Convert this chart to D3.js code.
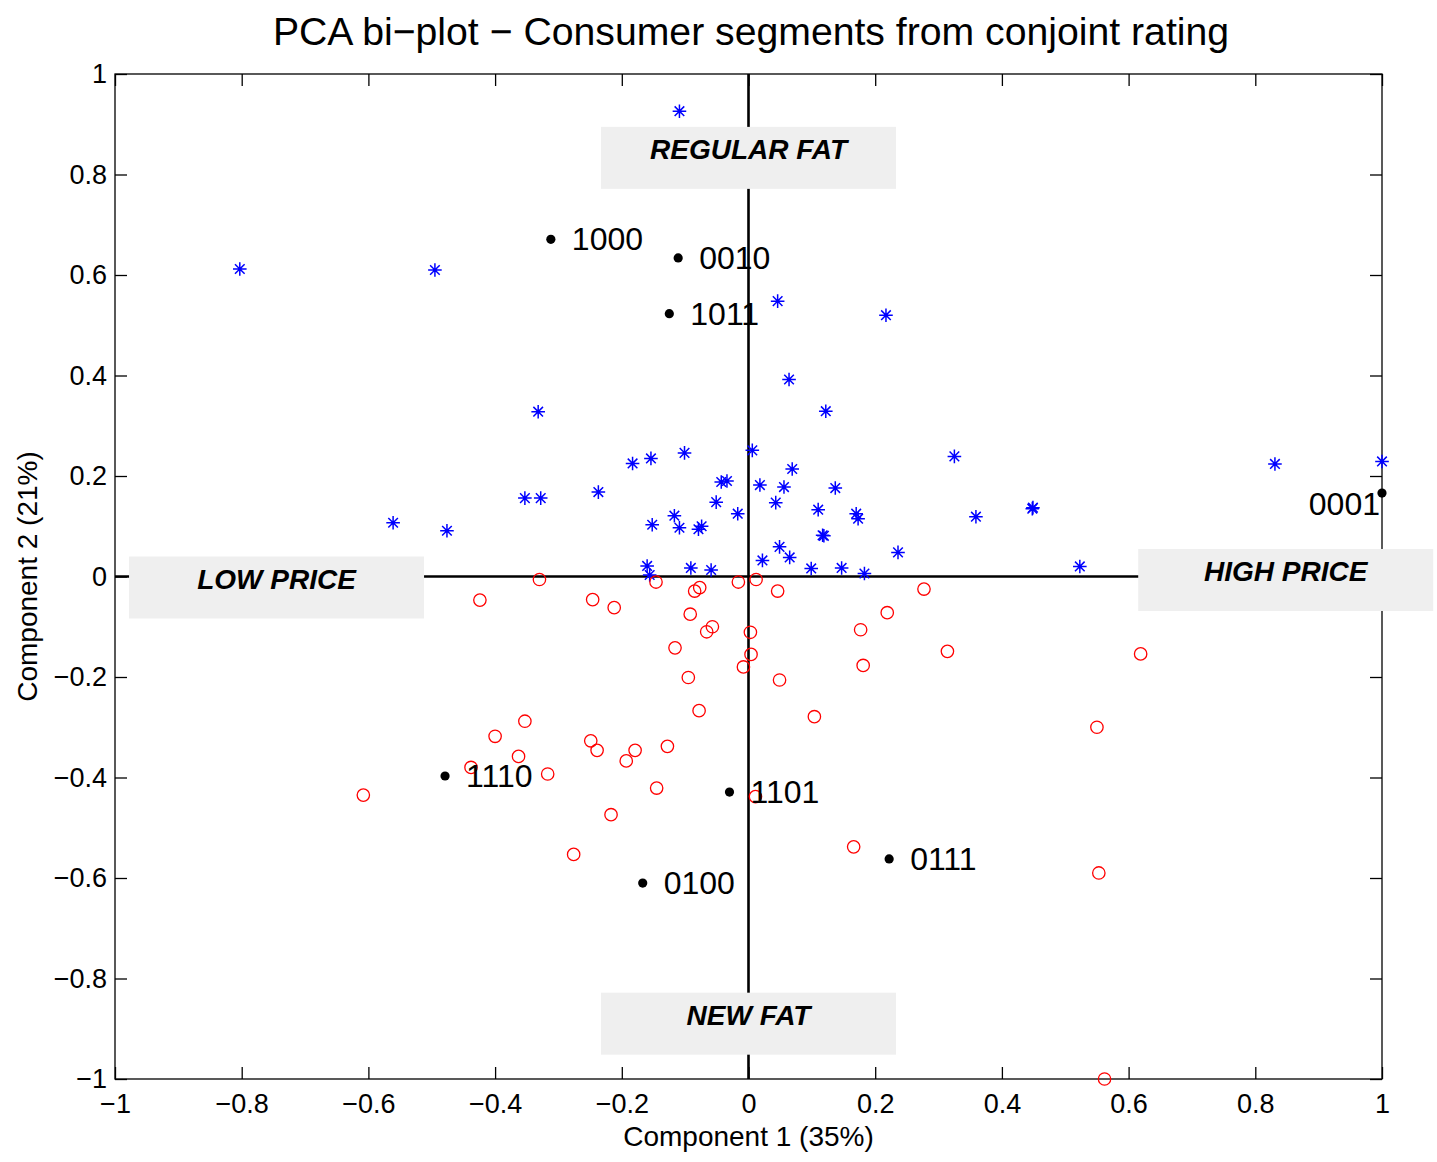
<!DOCTYPE html>
<html>
<head>
<meta charset="utf-8">
<title>PCA bi-plot</title>
<script src="https://d3js.org/d3.v7.min.js"></script>
<style>
  body { margin: 0; background: #fff; }
  text { font-family: "Liberation Sans", Arial, sans-serif; }
</style>
</head>
<body>
<svg id="chart" width="1437" height="1162"></svg>
<script>

// respondent scores, segment 1 (blue stars)
const seg1X = [-0.109, -0.803, -0.495, 0.046, 0.217, 0.064, -0.332, 0.122, 0.006, 0.831,
  1.0, 0.325, -0.183, -0.154, -0.101, 0.069, -0.043, -0.034, 0.018, 0.056,
  0.137, -0.237, -0.353, -0.328, -0.051, 0.043, 0.449, 0.448, 0.359, -0.561,
  -0.476, -0.017, 0.110, 0.170, 0.173, -0.152, -0.117, -0.109, -0.079, -0.074,
  0.117, 0.119, 0.236, 0.049, 0.022, 0.065, -0.160, -0.156, -0.091, -0.059,
  0.099, 0.147, 0.183, 0.523];
const seg1Y = [0.926, 0.612, 0.610, 0.548, 0.520, 0.392, 0.328, 0.329, 0.251, 0.224,
  0.229, 0.239, 0.225, 0.235, 0.246, 0.214, 0.188, 0.190, 0.182, 0.178,
  0.176, 0.168, 0.156, 0.156, 0.148, 0.147, 0.137, 0.135, 0.119, 0.107,
  0.091, 0.125, 0.133, 0.125, 0.115, 0.103, 0.121, 0.097, 0.094, 0.100,
  0.082, 0.081, 0.048, 0.059, 0.032, 0.038, 0.021, 0.003, 0.017, 0.013,
  0.016, 0.017, 0.006, 0.020];

// respondent scores, segment 2 (red circles)
const seg2X = [-0.330, -0.424, -0.146, -0.077, -0.085, -0.016, 0.012, 0.046, -0.246, -0.212,
  -0.092, 0.219, 0.277, 0.177, -0.057, -0.066, 0.003, -0.116, 0.004, -0.008,
  0.181, -0.095, 0.049, -0.078, 0.104, -0.353, -0.400, -0.249, -0.239, -0.179,
  -0.193, -0.128, -0.363, -0.317, -0.438, -0.608, -0.145, 0.011, -0.217, -0.276,
  0.166, 0.314, 0.619, 0.550, 0.553, 0.562];
const seg2Y = [-0.006, -0.047, -0.011, -0.022, -0.029, -0.011, -0.006, -0.029, -0.046, -0.062,
  -0.075, -0.072, -0.025, -0.106, -0.100, -0.110, -0.111, -0.142, -0.155, -0.180,
  -0.177, -0.201, -0.206, -0.267, -0.279, -0.288, -0.318, -0.327, -0.346, -0.346,
  -0.367, -0.338, -0.358, -0.393, -0.380, -0.435, -0.421, -0.438, -0.474, -0.553,
  -0.538, -0.149, -0.154, -0.300, -0.590, -1.000];

// product profile loadings
const profileNames = ["1000", "0010", "1011", "0001", "1110", "1101", "0100", "0111"];
const profileX = [-0.312, -0.111, -0.125, 1.0, -0.479, -0.030, -0.167, 0.222];
const profileY = [0.671, 0.634, 0.523, 0.166, -0.397, -0.429, -0.610, -0.562];

// attribute poles
const poleNames = ["REGULAR FAT", "NEW FAT", "LOW PRICE", "HIGH PRICE"];
const poleX = [0, 0, -0.745, 0.848];
const poleY = [0.85, -0.873, -0.005, 0.01];

const axisTicks = [-1, -0.8, -0.6, -0.4, -0.2, 0, 0.2, 0.4, 0.6, 0.8, 1];

const svg = d3.select("#chart");

const x = d3.scaleLinear().domain([-1, 1]).range([115, 1382]);
const y = d3.scaleLinear().domain([-1, 1]).range([1079, 74]);
const fmt = d3.format("~g");

const tickFont = g => g
    .attr("font-family", "'Liberation Sans', Arial, sans-serif")
    .attr("font-size", 27)
    .call(g => g.select(".domain").remove())
    .call(g => g.selectAll(".tick line").attr("stroke-width", 1.3));

svg.append("g")
    .attr("transform", `translate(0,${y(-1)})`)
    .call(d3.axisBottom(x).tickValues(axisTicks).tickFormat(fmt).tickSize(-12).tickPadding(15))
    .call(tickFont);

svg.append("g")
    .attr("transform", `translate(0,${y(1)})`)
    .call(d3.axisTop(x).tickValues(axisTicks).tickFormat("").tickSize(-12))
    .call(tickFont);

svg.append("g")
    .attr("transform", `translate(${x(-1)},0)`)
    .call(d3.axisLeft(y).tickValues(axisTicks).tickFormat(fmt).tickSize(-12).tickPadding(8))
    .call(tickFont);

svg.append("g")
    .attr("transform", `translate(${x(1)},0)`)
    .call(d3.axisRight(y).tickValues(axisTicks).tickFormat("").tickSize(-12))
    .call(tickFont);

// frame
svg.append("rect")
    .attr("x", x(-1))
    .attr("y", y(1))
    .attr("width", x(1) - x(-1))
    .attr("height", y(-1) - y(1))
    .attr("fill", "none")
    .attr("stroke", "#000")
    .attr("stroke-width", 1.3);

// zero lines
svg.append("line")
    .attr("x1", x(0)).attr("x2", x(0))
    .attr("y1", y(1)).attr("y2", y(-1))
    .attr("stroke", "#000").attr("stroke-width", 2.6);
svg.append("line")
    .attr("x1", x(-1)).attr("x2", x(1))
    .attr("y1", y(0)).attr("y2", y(0))
    .attr("stroke", "#000").attr("stroke-width", 2.6);

// pole boxes
const poles = poleNames.map((name, i) => ({name, x: poleX[i], y: poleY[i]}));
const boxW = 295, boxH = 62;

const poleG = svg.selectAll(".pole")
    .data(poles)
    .join("g")
      .attr("class", "pole")
      .attr("transform", d => `translate(${x(d.x)},${y(d.y)})`);

poleG.append("rect")
    .attr("x", -boxW / 2)
    .attr("y", -22.5)
    .attr("width", boxW)
    .attr("height", boxH)
    .attr("fill", "#efefef");

// scores
const seg1 = seg1X.map((v, i) => ({x: v, y: seg1Y[i]}));
const seg2 = seg2X.map((v, i) => ({x: v, y: seg2Y[i]}));

const r = 6.8, dg = r * Math.SQRT1_2;
const starD = `M${-r},0H${r}M0,${-r}V${r}M${-dg},${-dg}L${dg},${dg}M${-dg},${dg}L${dg},${-dg}`;

svg.selectAll(".star")
    .data(seg1)
    .join("path")
      .attr("class", "star")
      .attr("d", starD)
      .attr("transform", d => `translate(${x(d.x)},${y(d.y)})`)
      .attr("fill", "none")
      .attr("stroke", "#0000ff")
      .attr("stroke-width", 1.5);

svg.selectAll(".ring")
    .data(seg2)
    .join("circle")
      .attr("class", "ring")
      .attr("cx", d => x(d.x))
      .attr("cy", d => y(d.y))
      .attr("r", 6.2)
      .attr("fill", "none")
      .attr("stroke", "#ff0000")
      .attr("stroke-width", 1.3);

// profiles
const profiles = profileNames.map((name, i) => ({name, x: profileX[i], y: profileY[i]}));

svg.selectAll(".profile")
    .data(profiles)
    .join("circle")
      .attr("class", "profile")
      .attr("cx", d => x(d.x))
      .attr("cy", d => y(d.y))
      .attr("r", 4.6)
      .attr("fill", "#000");

svg.selectAll(".profile-label")
    .data(profiles)
    .join("text")
      .attr("class", "profile-label")
      .attr("x", d => d.x >= 0.95 ? x(d.x) - 2 : x(d.x) + 21)
      .attr("y", d => d.x >= 0.95 ? y(d.y) + 22 : y(d.y) + 11)
      .attr("text-anchor", d => d.x >= 0.95 ? "end" : "start")
      .attr("font-size", 32)
      .attr("fill", "#000")
      .text(d => d.name);

poleG.append("text")
    .attr("y", 10)
    .attr("text-anchor", "middle")
    .attr("font-size", 28)
    .attr("font-weight", "bold")
    .attr("font-style", "italic")
    .attr("fill", "#000")
    .text(d => d.name);

// titles
svg.append("text")
    .attr("x", 751)
    .attr("y", 45)
    .attr("text-anchor", "middle")
    .attr("font-size", 39.2)
    .text("PCA bi\u2212plot \u2212 Consumer segments from conjoint rating");

svg.append("text")
    .attr("x", (x(-1) + x(1)) / 2)
    .attr("y", 1146)
    .attr("text-anchor", "middle")
    .attr("font-size", 28)
    .text("Component 1 (35%)");

svg.append("text")
    .attr("transform", `translate(37,${y(0)}) rotate(-90)`)
    .attr("text-anchor", "middle")
    .attr("font-size", 28)
    .text("Component 2 (21%)");

</script>
</body>
</html>
